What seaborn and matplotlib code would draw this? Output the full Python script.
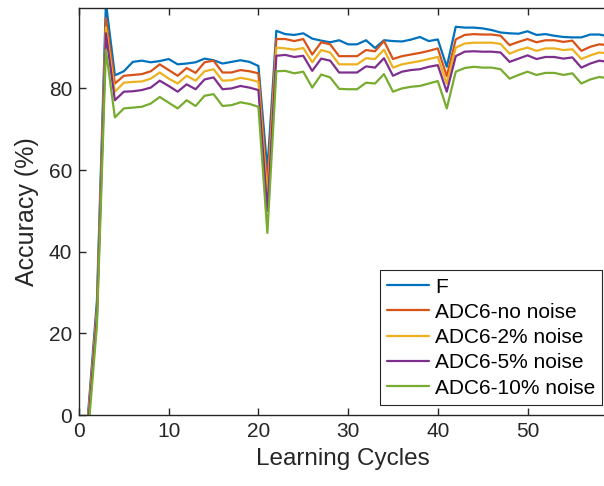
import pandas as pd
import seaborn as sns
from matplotlib import pyplot as plt

cycles = list(range(1, 60))

acc_f = [0, 28, 101, 83.2, 84.2, 86.5, 86.8, 86.4, 86.7, 87.2,
         85.9, 86.1, 86.4, 87.3, 86.9, 86.1, 86.5, 86.9, 86.5, 85.5,
         60, 94.1, 93.3, 93.1, 93.5, 92.2, 91.7, 91.3, 91.8, 90.8,
         90.8, 91.8, 89.9, 91.8, 91.6, 91.5, 91.95, 92.6, 91.6, 92.0,
         85.3, 95.1, 94.9, 94.9, 94.7, 94.3, 93.7, 93.5, 93.4, 94.0,
         93.1, 93.3, 92.9, 92.6, 92.5, 92.5, 93.2, 93.2, 92.8]
acc_no_noise = [-1, 26, 97.2, 81.2, 83.1, 83.3, 83.5, 84.2, 85.9, 84.5,
                83.1, 85.0, 83.8, 86.4, 86.8, 83.9, 83.9, 84.5, 84.2, 83.7,
                56, 92.1, 92.1, 91.6, 92.1, 88.3, 91.3, 90.8, 87.9, 87.9,
                87.9, 89.4, 89.1, 91.6, 87.2, 87.9, 88.3, 88.7, 89.2, 89.8,
                83.0, 92.0, 93.1, 93.3, 93.2, 93.2, 92.9, 90.6, 91.4, 92.1,
                91.3, 91.8, 91.8, 91.4, 91.7, 89.2, 90.2, 90.8, 90.6]
acc_2pct = [-2, 25, 95.0, 79.2, 81.4, 81.6, 81.7, 82.4, 83.9, 82.4,
            81.2, 83.1, 81.9, 84.2, 84.7, 81.9, 82.0, 82.6, 82.2, 81.6,
            53, 90.0, 89.8, 89.5, 89.9, 86.4, 89.4, 88.8, 85.9, 85.9,
            85.9, 87.4, 87.2, 89.5, 85.1, 85.9, 86.3, 86.7, 87.2, 87.7,
            81.2, 90.0, 91.0, 91.2, 91.2, 91.2, 90.9, 88.5, 89.4, 90.0,
            89.2, 89.8, 89.8, 89.4, 89.6, 87.2, 88.1, 88.8, 88.6]
acc_5pct = [-3, 24, 93.5, 77.1, 79.2, 79.3, 79.6, 80.2, 81.9, 80.6,
            79.2, 81.0, 79.8, 82.2, 82.7, 79.8, 80.0, 80.6, 80.2, 79.6,
            50, 88.0, 88.2, 87.7, 88.0, 84.3, 87.3, 86.8, 83.9, 83.9,
            83.9, 85.4, 85.1, 87.4, 83.1, 84.1, 84.5, 84.7, 85.3, 85.7,
            79.2, 87.9, 89.0, 89.1, 89.0, 89.0, 88.8, 86.5, 87.3, 88.1,
            87.2, 87.7, 87.7, 87.3, 87.6, 85.1, 86.1, 86.8, 86.5]
acc_10pct = [-5, 22, 89.4, 72.9, 75.1, 75.3, 75.5, 76.3, 77.9, 76.5,
             75.1, 77.1, 75.7, 78.2, 78.6, 75.7, 75.9, 76.6, 76.2, 75.5,
             44.6, 84.2, 84.3, 83.7, 84.1, 80.2, 83.4, 82.7, 79.9, 79.8,
             79.8, 81.4, 81.2, 83.5, 79.2, 80.0, 80.4, 80.6, 81.2, 81.8,
             75.1, 84.1, 85.0, 85.3, 85.1, 85.1, 84.7, 82.4, 83.3, 84.1,
             83.3, 83.8, 83.8, 83.3, 83.7, 81.2, 82.2, 82.8, 82.5]

series_names = ['F', 'ADC6-no noise', 'ADC6-2% noise', 'ADC6-5% noise', 'ADC6-10% noise']
colors = ['#0072BD', '#D95319', '#EDB120', '#7E2F8E', '#77AC30']


def to_long() -> pd.DataFrame:
    record = []
    for name, vals in zip(series_names, [acc_f, acc_no_noise, acc_2pct, acc_5pct, acc_10pct]):
        for c, v in zip(cycles, vals):
            record.append([c, v, name])
    return pd.DataFrame(record, columns=['cycle', 'acc', 'series'])


df = to_long()

sns.set_theme(style="ticks")
plt.rcParams['font.family'] = ['Liberation Sans', 'DejaVu Sans']
dark = '#262626'

fig = plt.figure(figsize=(6.04, 4.86), dpi=100)
ax = fig.add_axes([79 / 604, 71 / 486, 527 / 604, 407 / 486])
sns.lineplot(data=df, x='cycle', y='acc', hue='series', hue_order=series_names,
             palette=colors, linewidth=1.6, ax=ax)

ax.set_xlim(0, 58.75)
ax.set_ylim(0, 99.7)
ax.set_xticks([0, 10, 20, 30, 40, 50])
ax.set_yticks([0, 20, 40, 60, 80])
ax.tick_params(direction='in', top=True, right=False, length=5, width=1,
               labelsize=15, colors=dark, pad=5)
for side in ['left', 'bottom', 'top']:
    ax.spines[side].set_color(dark)
    ax.spines[side].set_linewidth(1)
ax.spines['right'].set_visible(False)

ax.set_xlabel('Learning Cycles', fontsize=17.5, color=dark, labelpad=5)
ax.set_ylabel('Accuracy (%)', fontsize=18, color=dark, labelpad=7)

leg = ax.legend(loc='lower right', bbox_to_anchor=(0.993, 0.025), fontsize=15,
                frameon=True, fancybox=False, framealpha=1, edgecolor=dark,
                handlelength=2.0, labelspacing=0.3, borderpad=0.35, handletextpad=0.3,
                borderaxespad=0)
leg.get_frame().set_linewidth(0.8)
for t in leg.get_texts():
    t.set_color('black')

fig.savefig('out.png', dpi=100)
